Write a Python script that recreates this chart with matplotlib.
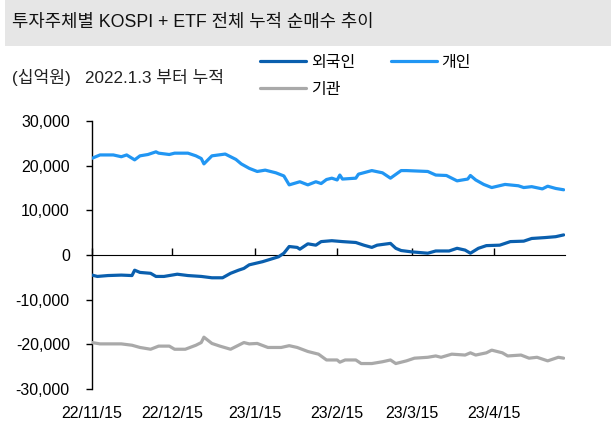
import numpy as np
import pandas as pd
import matplotlib
matplotlib.use("Agg")
import matplotlib.pyplot as plt
from matplotlib.patches import Rectangle

plt.rcParams['font.family'] = ['Liberation Sans', 'Noto Sans CJK KR']

# 누적 순매수, 단위: 천 십억원
retail_dates = ["2022-11-15", "2022-11-18", "2022-11-23", "2022-11-26", "2022-11-28",
                "2022-12-01", "2022-12-03", "2022-12-06", "2022-12-09", "2022-12-10",
                "2022-12-14", "2022-12-16", "2022-12-21", "2022-12-24", "2022-12-26",
                "2022-12-27", "2022-12-30", "2023-01-04", "2023-01-08", "2023-01-10",
                "2023-01-13", "2023-01-16", "2023-01-19", "2023-01-23", "2023-01-26",
                "2023-01-28", "2023-02-01", "2023-02-04", "2023-02-07", "2023-02-09",
                "2023-02-11", "2023-02-13", "2023-02-15", "2023-02-16", "2023-02-17",
                "2023-02-22", "2023-02-23", "2023-02-28", "2023-03-04", "2023-03-07",
                "2023-03-11", "2023-03-13", "2023-03-17", "2023-03-21", "2023-03-24",
                "2023-03-28", "2023-04-01", "2023-04-05", "2023-04-06", "2023-04-08",
                "2023-04-11", "2023-04-14", "2023-04-19", "2023-04-24", "2023-04-26",
                "2023-04-29", "2023-05-03", "2023-05-05", "2023-05-08", "2023-05-11"]
retail = [21.65, 22.4, 22.4, 22.0, 22.4, 21.3, 22.2, 22.5, 23.1, 22.8,
          22.5, 22.8, 22.8, 22.2, 21.6, 20.4, 22.2, 22.6, 21.4, 20.4,
          19.4, 18.7, 19.0, 18.4, 17.7, 15.7, 16.4, 15.7, 16.4, 16.0,
          16.9, 17.2, 16.8, 17.9, 17.0, 17.2, 18.1, 18.9, 18.4, 17.2,
          18.9, 18.9, 18.8, 18.7, 17.9, 17.8, 16.6, 17.0, 17.8, 16.8,
          15.8, 15.1, 15.8, 15.5, 15.1, 15.3, 14.8, 15.4, 14.9, 14.6]

foreign_dates = ["2022-11-15", "2022-11-17", "2022-11-21", "2022-11-26", "2022-11-30",
                 "2022-12-01", "2022-12-03", "2022-12-07", "2022-12-09", "2022-12-12",
                 "2022-12-17", "2022-12-21", "2022-12-26", "2022-12-30", "2023-01-03",
                 "2023-01-06", "2023-01-09", "2023-01-11", "2023-01-13", "2023-01-18",
                 "2023-01-24", "2023-01-26", "2023-01-28", "2023-01-31", "2023-02-01",
                 "2023-02-04", "2023-02-07", "2023-02-09", "2023-02-13", "2023-02-17",
                 "2023-02-22", "2023-02-25", "2023-02-28", "2023-03-02", "2023-03-07",
                 "2023-03-09", "2023-03-11", "2023-03-15", "2023-03-17", "2023-03-21",
                 "2023-03-24", "2023-03-29", "2023-04-01", "2023-04-04", "2023-04-06",
                 "2023-04-09", "2023-04-12", "2023-04-17", "2023-04-21", "2023-04-26",
                 "2023-04-29", "2023-05-04", "2023-05-08", "2023-05-11"]
foreign = [-4.5, -4.8, -4.6, -4.5, -4.6, -3.4, -3.9, -4.1, -4.8, -4.8,
           -4.3, -4.6, -4.8, -5.1, -5.1, -4.1, -3.4, -3.0, -2.2, -1.5,
           -0.4, 0.4, 1.9, 1.7, 1.3, 2.5, 2.2, 3.0, 3.2, 3.0,
           2.8, 2.2, 1.7, 2.2, 2.6, 1.5, 1.0, 0.7, 0.6, 0.4,
           0.9, 0.9, 1.5, 1.1, 0.4, 1.5, 2.1, 2.2, 3.0, 3.1,
           3.7, 3.9, 4.1, 4.5]

inst_dates = ["2022-11-15", "2022-11-18", "2022-11-26", "2022-11-30", "2022-12-03",
              "2022-12-07", "2022-12-10", "2022-12-14", "2022-12-16", "2022-12-20",
              "2022-12-24", "2022-12-26", "2022-12-27", "2022-12-30", "2023-01-02",
              "2023-01-06", "2023-01-09", "2023-01-11", "2023-01-13", "2023-01-16",
              "2023-01-20", "2023-01-25", "2023-01-28", "2023-01-31", "2023-02-04",
              "2023-02-08", "2023-02-11", "2023-02-15", "2023-02-16", "2023-02-18",
              "2023-02-22", "2023-02-24", "2023-02-28", "2023-03-04", "2023-03-07",
              "2023-03-09", "2023-03-13", "2023-03-16", "2023-03-21", "2023-03-24",
              "2023-03-26", "2023-03-30", "2023-04-04", "2023-04-06", "2023-04-08",
              "2023-04-12", "2023-04-14", "2023-04-18", "2023-04-20", "2023-04-25",
              "2023-04-28", "2023-05-01", "2023-05-05", "2023-05-09", "2023-05-11"]
inst = [-19.6, -19.9, -19.9, -20.2, -20.7, -21.1, -20.4, -20.4, -21.1, -21.1,
        -20.2, -19.6, -18.4, -19.8, -20.4, -21.1, -20.2, -19.6, -19.9, -19.8,
        -20.7, -20.7, -20.3, -20.7, -21.6, -22.2, -23.5, -23.5, -24.0, -23.5,
        -23.5, -24.3, -24.3, -23.9, -23.5, -24.3, -23.7, -23.1, -22.9, -22.6,
        -22.9, -22.2, -22.4, -21.9, -22.4, -21.9, -21.3, -21.9, -22.6, -22.4,
        -23.1, -22.9, -23.7, -22.9, -23.1]

tick_dates = ["2022-11-15", "2022-12-15", "2023-01-15", "2023-02-15", "2023-03-15", "2023-04-15"]
tick_labels = ["22/11/15", "22/12/15", "23/1/15", "23/2/15", "23/3/15", "23/4/15"]
y_ticks = [30000, 20000, 10000, 0, -10000, -20000, -30000]

fig = plt.figure(figsize=(6.11, 4.32), dpi=100)

# title band
fig.patches.append(Rectangle((5 / 611, 1 - 46 / 432), 1, 46 / 432, transform=fig.transFigure,
                             facecolor="#e6e6e6", edgecolor="none", zorder=0))
fig.text(12 / 611, 1 - 22 / 432, "투자주체별 KOSPI + ETF 전체 누적 순매수 추이",
         fontsize=12.8, va="center", ha="left", color="#111111")
fig.text(12 / 611, 1 - 77 / 432, "(십억원)   2022.1.3 부터 누적",
         fontsize=12.3, va="center", ha="left", color="#222222")

ax = fig.add_axes([92 / 611, 1 - 389 / 432, (565 - 92) / 611, (389 - 121) / 432])

l1, = ax.plot(pd.to_datetime(foreign_dates), np.array(foreign) * 1000, color="#0a5fae", lw=2.3,
              solid_capstyle="round", label="외국인", zorder=3)
l2, = ax.plot(pd.to_datetime(retail_dates), np.array(retail) * 1000, color="#2196f3", lw=2.3,
              solid_capstyle="round", label="개인", zorder=3)
l3, = ax.plot(pd.to_datetime(inst_dates), np.array(inst) * 1000, color="#a9a9a9", lw=2.3,
              solid_capstyle="round", label="기관", zorder=3)

ax.set_ylim(-30000, 30000)
ax.set_xlim(pd.Timestamp("2022-11-15"), pd.Timestamp("2023-05-11 12:00"))
ax.set_yticks(y_ticks)
ax.set_yticklabels([f"{v:,}" for v in y_ticks])
ax.tick_params(axis="y", direction="out", length=4, width=1, labelsize=11.5, pad=12)

for s in ["top", "right", "bottom"]:
    ax.spines[s].set_visible(False)
ax.spines["left"].set_linewidth(1)

ax.set_xticks(pd.to_datetime(tick_dates))
ax.set_xticklabels(tick_labels)
ax.tick_params(axis="x", length=0, labelsize=11.5, pad=12)

# zero line with the date ticks on it
zero = ax.secondary_xaxis(0.5)
zero.set_xticks(pd.to_datetime(tick_dates))
zero.set_xticklabels([])
zero.tick_params(axis="x", direction="out", length=5, width=1)
zero.spines["bottom"].set_linewidth(1)

fig.legend([l1, l3, l2], ["외국인", "기관", "개인"], ncol=2, frameon=False,
           loc="upper left", bbox_to_anchor=(260 / 611, 1 - 55 / 432),
           fontsize=11.5, handlelength=2.9, handletextpad=0.3, columnspacing=2.2,
           labelspacing=0.75, borderpad=0, borderaxespad=0)

fig.savefig("out.png", dpi=100)
